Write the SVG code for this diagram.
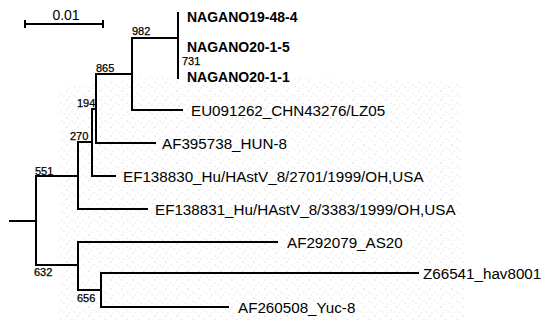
<svg xmlns="http://www.w3.org/2000/svg" width="543" height="320" viewBox="0 0 543 320">
  <defs>
    <style>
      .br { fill: none; stroke: #000; stroke-width: 2; stroke-linecap: square; }
      .tip { font-family: "Liberation Sans", Arial, sans-serif; font-size: 15.2px; fill: #000; }
      .tipb { font-family: "Liberation Sans", Arial, sans-serif; font-size: 14px; font-weight: bold; fill: #000; }
      .bs { font-family: "Liberation Sans", Arial, sans-serif; font-size: 11px; fill: #000; stroke: #000; stroke-width: 0.25; }
      .scale { font-family: "Liberation Sans", Arial, sans-serif; font-size: 14px; fill: #000; }
    </style>
    <pattern id="stipple" width="11" height="9" patternUnits="userSpaceOnUse">
      <circle cx="1" cy="1" r="0.6" fill="#888"/>
      <circle cx="6" cy="4" r="0.5" fill="#999"/>
      <circle cx="3" cy="7" r="0.5" fill="#aaa"/>
      <circle cx="9" cy="6" r="0.5" fill="#999"/>
    </pattern>
  </defs>
  <rect width="543" height="320" fill="#fff"/>
  <path d="M58,88 L150,76 L300,78 L460,82 L465,320 L58,320 Z" fill="url(#stipple)" opacity="0.6"/>

  <g id="scalebar">
    <path class="br" d="M25,24 H103 M25,21 V27 M103,21 V27"/>
    <text class="scale" x="66" y="20" text-anchor="middle">0.01</text>
  </g>

  <g id="connectors">
    <path class="br" d="M10,221 H36"/>
    <path class="br" d="M36,176 V265"/>
    <path class="br" d="M36,176 H78 M78,142 V209 M78,209 H147"/>
    <path class="br" d="M78,142 H92 M92,109 V176 M92,176 H115"/>
    <path class="br" d="M92,109 H96 M96,74 V143 M96,143 H155"/>
    <path class="br" d="M96,74 H132 M132,38 V110 M132,110 H182"/>
    <path class="br" d="M132,38 H178 M178,13 V78"/>
    <path class="br" d="M36,265 H78 M78,242 V290 M78,242 H277"/>
    <path class="br" d="M78,290 H101 M101,273 V307 M101,273 H418 M101,307 H228"/>
  </g>

  <g id="n982"><text class="bs" x="132" y="35">982</text></g>
  <g id="n731"><text class="bs" x="182" y="65">731</text></g>
  <g id="n865"><text class="bs" x="96" y="72">865</text></g>
  <g id="n194"><text class="bs" x="77" y="107">194</text></g>
  <g id="n270"><text class="bs" x="70" y="140">270</text></g>
  <g id="n551"><text class="bs" x="35" y="175">551</text></g>
  <g id="n632"><text class="bs" x="34" y="276">632</text></g>
  <g id="n656"><text class="bs" x="77" y="302">656</text></g>

  <g id="t_nagano19-48-4"><text class="tipb" x="187" y="22">NAGANO19-48-4</text></g>
  <g id="t_nagano20-1-5"><text class="tipb" x="187" y="52">NAGANO20-1-5</text></g>
  <g id="t_nagano20-1-1"><text class="tipb" x="187" y="82">NAGANO20-1-1</text></g>
  <g id="t_eu091262"><text class="tip" x="191" y="116">EU091262_CHN43276/LZ05</text></g>
  <g id="t_af395738"><text class="tip" x="162" y="149">AF395738_HUN-8</text></g>
  <g id="t_ef138830"><text class="tip" x="123" y="182">EF138830_Hu/HAstV_8/2701/1999/OH,USA</text></g>
  <g id="t_ef138831"><text class="tip" x="155" y="215">EF138831_Hu/HAstV_8/3383/1999/OH,USA</text></g>
  <g id="t_af292079"><text class="tip" x="287" y="248">AF292079_AS20</text></g>
  <g id="t_z66541"><text class="tip" x="423" y="279">Z66541_hav8001</text></g>
  <g id="t_af260508"><text class="tip" x="238" y="313">AF260508_Yuc-8</text></g>
</svg>
